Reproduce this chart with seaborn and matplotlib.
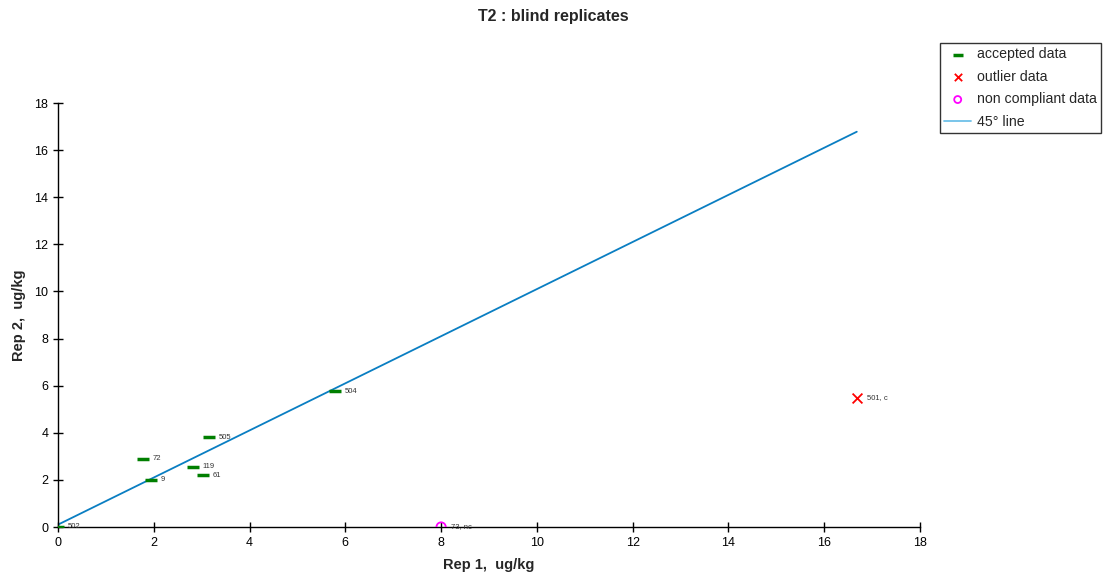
import matplotlib
matplotlib.use("Agg")
import matplotlib.pyplot as plt
import seaborn as sns
import pandas as pd

sns.set_style("white")
plt.rcParams['font.family'] = ['Liberation Sans', 'DejaVu Sans']

# data
acc_labels = ["502", "72", "9", "119", "61", "505", "504"]
acc_rep1 = [0.0, 1.77, 1.94, 2.82, 3.03, 3.15, 5.78]
acc_rep2 = [0.0, 2.89, 2.0, 2.55, 2.2, 3.82, 5.77]
out_labels = ["501, c"]
out_rep1 = [16.68]
out_rep2 = [5.48]
nc_labels = ["73, nc"]
nc_rep1 = [8.0]
nc_rep2 = [0.0]
line_x = [0.0, 16.68]
line_y = [0.1, 16.78]

fig = plt.figure(figsize=(11.07, 5.86), dpi=100)
ax = fig.add_axes([58/1107, 1-527/586, (920-58)/1107, (527-103)/586])

df_acc = pd.DataFrame({"x": acc_rep1, "y": acc_rep2})
df_out = pd.DataFrame({"x": out_rep1, "y": out_rep2})
df_nc = pd.DataFrame({"x": nc_rep1, "y": nc_rep2})
df_line = pd.DataFrame({"x": line_x, "y": line_y})

sns.lineplot(data=df_line, x="x", y="y", ax=ax, color="#0a7ec2", lw=1.3,
             label="45° line", zorder=2)
sns.scatterplot(data=df_acc, x="x", y="y", ax=ax, marker="_", s=75,
                color="#007f00", linewidth=2.5, label="accepted data", zorder=3)
sns.scatterplot(data=df_out, x="x", y="y", ax=ax, marker="x", s=50,
                color="#ff0000", linewidth=1.3, label="outlier data", zorder=3)
sns.scatterplot(data=df_nc, x="x", y="y", ax=ax, marker="o", s=45,
                facecolor="none", edgecolor="#ff00ff", linewidth=1.3,
                label="non compliant data", zorder=3)

for lab, x, y in zip(acc_labels + out_labels + nc_labels,
                     acc_rep1 + out_rep1 + nc_rep1,
                     acc_rep2 + out_rep2 + nc_rep2):
    ax.annotate(lab, (x, y), xytext=(7, 0), textcoords="offset points",
                fontsize=5.5, va="center", color="#333333")

ax.set_xlim(0, 18)
ax.set_ylim(0, 18)
ax.set_xticks(range(0, 19, 2))
ax.set_yticks(range(0, 19, 2))
ax.tick_params(axis="both", direction="inout", length=7, width=1, labelsize=9,
               bottom=True, left=True, colors="black")
for s in ["top", "right"]:
    ax.spines[s].set_visible(False)
for s in ["left", "bottom"]:
    ax.spines[s].set_color("black")
    ax.spines[s].set_linewidth(1)

ax.set_xlabel("Rep 1,  ug/kg", fontsize=10.5, fontweight="bold", labelpad=7)
ax.set_ylabel("Rep 2,  ug/kg", fontsize=10.5, fontweight="bold", labelpad=6)
fig.suptitle("T2 : blind replicates", fontsize=11.5, fontweight="bold", y=0.985)

h, l = ax.get_legend_handles_labels()
order = [l.index(n) for n in ["accepted data", "outlier data", "non compliant data", "45° line"]]
hs = [h[i] for i in order]
leg = ax.legend(hs, [l[i] for i in order],
                loc="upper left", bbox_to_anchor=(940/1107, 1-43/586),
                bbox_transform=fig.transFigure, fontsize=10.2, frameon=True,
                fancybox=False, edgecolor="black", borderpad=0.3,
                labelspacing=0.6, handlelength=1.9, handletextpad=0.4,
                borderaxespad=0, markerscale=0.75)
leg.get_frame().set_linewidth(1)
for ln in leg.get_lines():
    if ln.get_label() == "45° line" or ln.get_marker() in ("None", None, ""):
        ln.set_color("#6ec0e8")

fig.savefig("out.png", dpi=100)
